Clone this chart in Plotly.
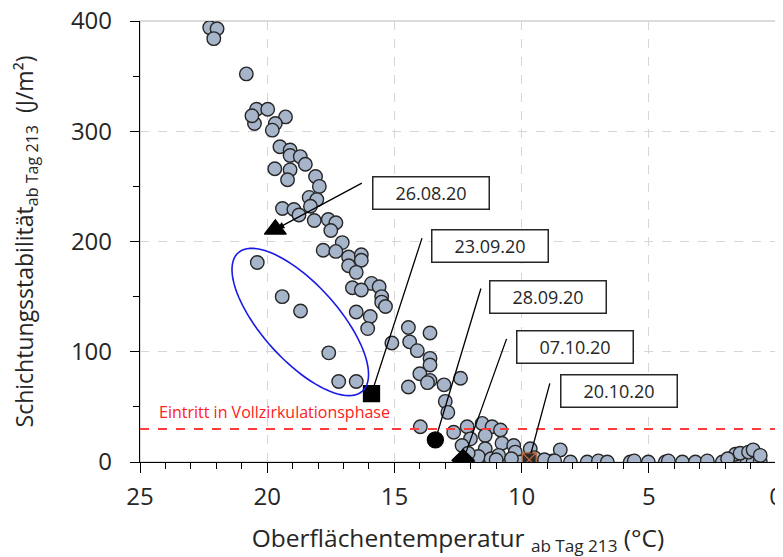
import numpy as np
import plotly.graph_objects as go

# ---- data: surface temperature (°C) vs. stratification stability (J/m²) ----
temp = [22.26, 21.97, 22.1, 20.82, 20.42, 19.98, 20.5, 20.6, 19.28, 19.68, 19.8,
        19.5, 19.1, 19.1, 18.7, 18.5, 19.7, 19.1, 19.2, 18.1, 17.95, 18.35, 18.05,
        18.3, 19.4, 18.95, 18.75, 18.15, 17.6, 17.3, 17.5, 17.05, 17.8, 17.3, 16.8,
        16.3, 16.3, 16.8, 16.5, 15.9, 15.6, 16.65, 16.3, 15.5, 15.5, 15.35, 16.5,
        15.95, 16.05, 15.1, 14.45, 13.6, 14.4, 14.1, 13.6, 13.6, 14.0, 13.6, 13.7,
        14.45, 13.05, 12.4, 13.0, 12.9, 13.98, 12.67, 12.14, 11.55, 11.16, 10.83,
        12.01, 11.43, 12.34, 11.43, 10.77, 10.31, 9.66, 10.25, 8.48,
        20.39, 19.41, 18.69, 17.58, 17.19, 16.5,
        11.9, 11.35, 10.72, 10.52, 10.05, 9.34, 8.99, 8.79, 8.08, 7.42, 6.98, 6.63,
        5.73, 5.57, 5.02, 4.35, 4.23, 3.68, 3.17, 2.70, 2.11, 1.68, 1.40, 1.13, 0.90,
        0.62,
        1.6, 1.41, 1.08, 0.9, 0.62, 1.9,
        11.7, 11.2, 10.9, 10.4, 9.5, 9.1, 8.7, 12.1, 11.0]
stab = [394, 393, 384, 352, 320, 320, 307, 314, 313, 307, 301,
        286, 283, 278, 277, 270, 266, 265, 256, 259, 250, 240, 238,
        232, 230, 229, 224, 219, 220, 217, 210, 199, 192, 191, 186,
        188, 183, 178, 172, 162, 159, 158, 156, 150, 145, 141, 136,
        132, 121, 108, 122, 117, 109, 101, 94, 88, 80, 74, 72,
        68, 70, 76, 55, 45, 32, 27, 32, 35, 32, 29,
        21, 24, 15, 12, 17, 15, 12, 9, 11,
        181, 150, 137, 99, 73, 73,
        0, 1, 0, 1, 0, 1, 0, 1, 0, 0, 1, 0,
        0, 1, 0, 0, 1, 0, 0, 1, 0, 1, 0, 1, 0,
        1,
        7, 8, 9, 11, 6, 3,
        5, 3, 6, 3, 4, 2, 1, 8, 2]

hl_dates = ["26.08.20", "23.09.20", "28.09.20", "07.10.20", "20.10.20"]
hl_temp = [19.68, 15.9, 13.39, 12.3, 9.7]
hl_stab = [211, 62, 20, 1.5, 2]

threshold = 30
threshold_label = "Eintritt in Vollzirkulationsphase"

x_ticks = [25, 20, 15, 10, 5, 0]
y_ticks = [0, 100, 200, 300, 400]

# ---- layout geometry (page body adds an 8px offset) ----
W, H = 775, 549
ML, MR, MT = 131.5, 7, 12.7
PW = W - ML - MR
PH = 441
MB = H - MT - PH
XMAX, YMAX = 25, 400
xs, ys = PW / XMAX, PH / YMAX  # px per unit

FONT = "Open Sans"
TXT = "#262626"

fig = go.Figure()

fig.add_trace(go.Scatter(
    x=temp, y=stab, mode="markers",
    marker=dict(size=13.5, color="#A7B5CB", opacity=1,
                line=dict(color="#262626", width=1.4)),
    showlegend=False, hoverinfo="x+y"))

hl_symbol = ["triangle-up", "square", "circle", "diamond", "square-x"]
hl_size = [19, 16, 16, 17, 14]
hl_fill = ["black", "black", "black", "black", "#2a2a2a"]
hl_line = ["black", "black", "black", "black", "#B8693E"]
fig.add_trace(go.Scatter(
    x=hl_temp, y=hl_stab, mode="markers",
    marker=dict(symbol=hl_symbol, size=hl_size, color=hl_fill, opacity=1,
                line=dict(color=hl_line, width=1.3)),
    showlegend=False, text=hl_dates, hoverinfo="text+x+y"))

# threshold line
fig.add_shape(type="line", xref="paper", x0=0, x1=1, yref="y", y0=threshold, y1=threshold,
              line=dict(color="#FF3B3B", width=2, dash="dash"))
fig.add_annotation(x=XMAX - 17.5 / xs, y=threshold, yshift=17, xanchor="left",
                   yanchor="middle", text=threshold_label, showarrow=False,
                   font=dict(family=FONT, size=16, color="#FF2020"))

# ellipse around outlier group (drawn in px geometry, converted to data units)
cx, cy = 18.7, 127
a, b, th = 93, 38, np.deg2rad(48)
t = np.linspace(0, 2 * np.pi, 90)
dpx = a * np.cos(th) * np.cos(t) - b * np.sin(th) * np.sin(t)
dpy = a * np.sin(th) * np.cos(t) + b * np.cos(th) * np.sin(t)
ex = cx - dpx / xs
ey = cy - dpy / ys
path = "M " + " L ".join(f"{u:.3f},{v:.3f}" for u, v in zip(ex, ey)) + " Z"
fig.add_shape(type="path", path=path, xref="x", yref="y",
              line=dict(color="#1A1AE6", width=1.6))

# plot border (light grey top/right)
fig.add_shape(type="rect", xref="paper", yref="paper", x0=0, x1=1, y0=0, y1=1,
              line=dict(color="#CFCFCF", width=1.5), layer="below")

# callouts
tail = [(88, -47), (51, -157), (46, -153), (44, -123), (21, -78)]
box = [(156, 36.5), (118.5, 147.5), (113, 143.3), (112.3, 113.5), (89.5, 68.8)]
heads = [2, 0, 0, 0, 0]
standoff = [2, 8, 8, 9, 7]
for i, d in enumerate(hl_dates):
    fig.add_annotation(x=hl_temp[i], y=hl_stab[i], text="", showarrow=True,
                       ax=tail[i][0], ay=tail[i][1], arrowhead=heads[i], arrowsize=1.1,
                       arrowwidth=1.3, arrowcolor="black", standoff=standoff[i])
    fig.add_annotation(x=hl_temp[i], y=hl_stab[i], xshift=box[i][0], yshift=box[i][1],
                       text=d, showarrow=False, width=113, height=29,
                       bordercolor="#262626", borderwidth=1.5, bgcolor="white",
                       font=dict(family=FONT, size=18, color=TXT))

axis_common = dict(showline=True, linecolor="black", linewidth=1.3, ticks="outside",
                   tickcolor="black", tickwidth=1.3, showgrid=True, gridcolor="#D6D6D6",
                   griddash="dash", gridwidth=1, zeroline=False, automargin=False,
                   tickmode="array", ticklabeloverflow="allow",
                   tickfont=dict(family=FONT, size=24, color=TXT))

fig.update_xaxes(range=[XMAX, 0], tickvals=x_ticks, ticklen=10, ticklabelstandoff=3,
                 minor=dict(dtick=1, ticks="outside", ticklen=6, tickcolor="black",
                            tickwidth=1.3, showgrid=False),
                 title=dict(text="Oberflächentemperatur <sub>ab Tag 213</sub> (°C)",
                            font=dict(family=FONT, size=24.5, color=TXT), standoff=22),
                 **axis_common)
fig.update_yaxes(range=[0, YMAX], tickvals=y_ticks, ticklen=9, ticklabelstandoff=13,
                 minor=dict(dtick=50, ticks="outside", ticklen=6, tickcolor="black",
                            tickwidth=1.3, showgrid=False),
                 title=dict(text="Schichtungsstabilität<sub>ab Tag 213</sub>  (J/m²)",
                            font=dict(family=FONT, size=23, color=TXT), standoff=36),
                 **axis_common)

fig.update_layout(width=W, height=H, margin=dict(l=ML, r=MR, t=MT, b=MB, pad=0),
                  plot_bgcolor="white", paper_bgcolor="white", showlegend=False)

fig.write_html("out.html")
